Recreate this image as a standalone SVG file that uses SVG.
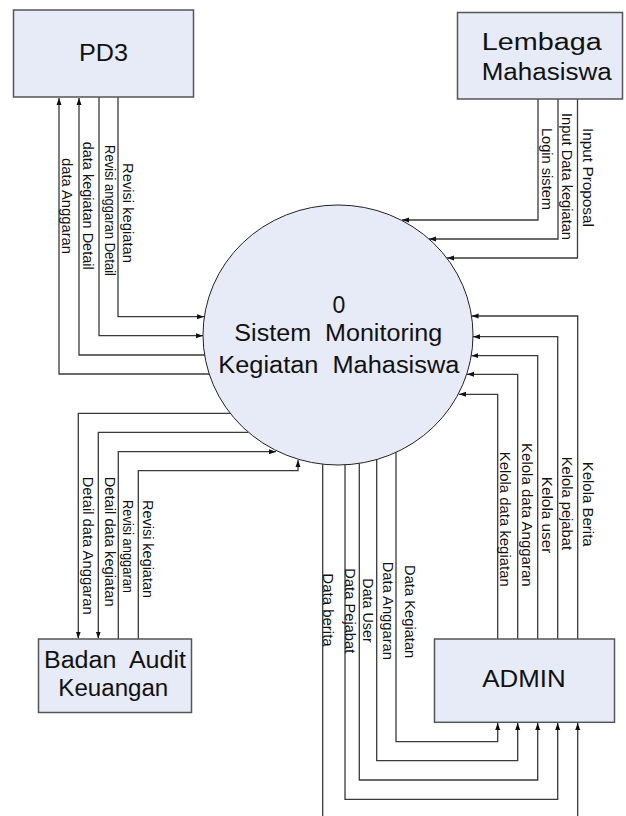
<svg xmlns="http://www.w3.org/2000/svg" width="626" height="816" viewBox="0 0 626 816">
<style>
.box{fill:#e7ebf7;stroke:#555;stroke-width:1.5}
.proc{fill:#e7ebf7;stroke:#222;stroke-width:1}
.t{font-family:"Liberation Sans",Arial,sans-serif;font-size:23px;fill:#111;white-space:pre}
.lbl{font-family:"Liberation Sans",Arial,sans-serif;font-size:14px;fill:#111}
.c{fill:none;stroke:#3a3a3a;stroke-width:1.3}
</style>
<defs>
<marker id="ah" markerUnits="userSpaceOnUse" markerWidth="8" markerHeight="6" refX="7" refY="3" orient="auto">
<path d="M0,0.5 L7,3 L0,5.5 Z" fill="#111"/>
</marker>
</defs>
<rect width="626" height="816" fill="#fff"/>
<g id="connectors">
<path class="c" d="M209,374 H59 V98" marker-end="url(#ah)"/>
<path class="c" d="M205,355 H79 V98" marker-end="url(#ah)"/>
<path class="c" d="M99,97 V335.7 H203" marker-end="url(#ah)"/>
<path class="c" d="M118,97 V316.7 H204" marker-end="url(#ah)"/>
<path class="c" d="M538,99 V220 H402" marker-end="url(#ah)"/>
<path class="c" d="M558,99 V239 H429" marker-end="url(#ah)"/>
<path class="c" d="M577.5,99 V258 H447" marker-end="url(#ah)"/>
<path class="c" d="M230,413.3 H78.3 V638.5" marker-end="url(#ah)"/>
<path class="c" d="M248,432.3 H98.3 V638.5" marker-end="url(#ah)"/>
<path class="c" d="M118.3,639 V451.7 H276" marker-end="url(#ah)"/>
<path class="c" d="M138.3,639 V470.7 H298 V460" marker-end="url(#ah)"/>
<path class="c" d="M497.7,639 V394.3 H459" marker-end="url(#ah)"/>
<path class="c" d="M517.7,639 V374.3 H467" marker-end="url(#ah)"/>
<path class="c" d="M537.7,639 V355.7 H471.3" marker-end="url(#ah)"/>
<path class="c" d="M557.7,639 V336.7 H473" marker-end="url(#ah)"/>
<path class="c" d="M577.7,639 V316 H471.6" marker-end="url(#ah)"/>
<path class="c" d="M396,452.4 V741.7 H497.7 V723" marker-end="url(#ah)"/>
<path class="c" d="M376.7,459.5 V760.7 H517.7 V723" marker-end="url(#ah)"/>
<path class="c" d="M359.3,463.4 V780 H537.7 V723" marker-end="url(#ah)"/>
<path class="c" d="M345,464.8 V799.3 H557.7 V723" marker-end="url(#ah)"/>
<path class="c" d="M322.7,464.2 V816"/>
<path class="c" d="M577.7,816 V723" marker-end="url(#ah)"/>
<g id="labels">
<text class="lbl" transform="translate(61.7,158) rotate(90)" textLength="96" lengthAdjust="spacingAndGlyphs">data Anggaran</text>
<text class="lbl" transform="translate(83.3,141.7) rotate(90)" textLength="128" lengthAdjust="spacingAndGlyphs">data kegiatan Detail</text>
<text class="lbl" transform="translate(105,145) rotate(90)" textLength="131" lengthAdjust="spacingAndGlyphs">Revisi anggaran Detail</text>
<text class="lbl" transform="translate(123.3,163) rotate(90)" textLength="100" lengthAdjust="spacingAndGlyphs">Revisi kegiatan</text>
<text class="lbl" transform="translate(541.7,128) rotate(90)" textLength="82" lengthAdjust="spacingAndGlyphs">Login sistem</text>
<text class="lbl" transform="translate(561.7,113) rotate(90)" textLength="127" lengthAdjust="spacingAndGlyphs">Input Data kegiatan</text>
<text class="lbl" transform="translate(582.7,128) rotate(90)" textLength="99" lengthAdjust="spacingAndGlyphs">Input Proposal</text>
<text class="lbl" transform="translate(83.3,476.7) rotate(90)" textLength="138" lengthAdjust="spacingAndGlyphs">Detail data Anggaran</text>
<text class="lbl" transform="translate(105,476.7) rotate(90)" textLength="130" lengthAdjust="spacingAndGlyphs">Detail data kegiatan</text>
<text class="lbl" transform="translate(123.3,500) rotate(90)" textLength="93" lengthAdjust="spacingAndGlyphs">Revisi anggaran</text>
<text class="lbl" transform="translate(143.3,500) rotate(90)" textLength="98" lengthAdjust="spacingAndGlyphs">Revisi kegiatan</text>
<text class="lbl" transform="translate(500,451.7) rotate(90)" textLength="135" lengthAdjust="spacingAndGlyphs">Kelola data kegiatan</text>
<text class="lbl" transform="translate(521.7,443) rotate(90)" textLength="143.7" lengthAdjust="spacingAndGlyphs">Kelola data Anggaran</text>
<text class="lbl" transform="translate(541.7,476.7) rotate(90)" textLength="76.7" lengthAdjust="spacingAndGlyphs">Kelola user</text>
<text class="lbl" transform="translate(561.7,456.7) rotate(90)" textLength="93.3" lengthAdjust="spacingAndGlyphs">Kelola pejabat</text>
<text class="lbl" transform="translate(583.3,461.7) rotate(90)" textLength="85" lengthAdjust="spacingAndGlyphs">Kelola Berita</text>
<text class="lbl" transform="translate(405,565) rotate(90)" textLength="93.3" lengthAdjust="spacingAndGlyphs">Data Kegiatan</text>
<text class="lbl" transform="translate(383.3,561.7) rotate(90)" textLength="98.3" lengthAdjust="spacingAndGlyphs">Data Anggaran</text>
<text class="lbl" transform="translate(363.3,578.3) rotate(90)" textLength="64.4" lengthAdjust="spacingAndGlyphs">Data User</text>
<text class="lbl" transform="translate(345,568.3) rotate(90)" textLength="85" lengthAdjust="spacingAndGlyphs">Data Pejabat</text>
<text class="lbl" transform="translate(323.3,573.3) rotate(90)" textLength="73.4" lengthAdjust="spacingAndGlyphs">Data berita</text>
</g>
</g>
<g id="pd3">
<rect class="box" x="13.5" y="10" width="180" height="87"/>
<text class="t" x="79" y="61" style="font-size:24.5px" textLength="49" lengthAdjust="spacingAndGlyphs">PD3</text>
</g>
<g id="lembaga">
<rect class="box" x="457.5" y="12.5" width="165" height="86.5"/>
<text class="t" x="481.7" y="50" textLength="120" lengthAdjust="spacingAndGlyphs">Lembaga</text>
<text class="t" x="481.7" y="80" textLength="130" lengthAdjust="spacingAndGlyphs">Mahasiswa</text>
</g>
<g id="process">
<ellipse class="proc" cx="338" cy="335" rx="135" ry="130"/>
<text class="t" x="339" y="313" text-anchor="middle">0</text>
<text class="t" x="234.3" y="341" textLength="208" lengthAdjust="spacingAndGlyphs">Sistem  Monitoring</text>
<text class="t" x="218.3" y="373" textLength="241" lengthAdjust="spacingAndGlyphs">Kegiatan  Mahasiswa</text>
</g>
<g id="badan">
<rect class="box" x="38.5" y="639" width="153" height="73.5"/>
<text class="t" x="44" y="667.7" textLength="142" lengthAdjust="spacingAndGlyphs">Badan  Audit</text>
<text class="t" x="58.3" y="695.7" textLength="110" lengthAdjust="spacingAndGlyphs">Keuangan</text>
</g>
<g id="admin">
<rect class="box" x="434.5" y="639" width="180" height="83.3"/>
<text class="t" x="482.3" y="687" textLength="83.4" lengthAdjust="spacingAndGlyphs">ADMIN</text>
</g>
</svg>
